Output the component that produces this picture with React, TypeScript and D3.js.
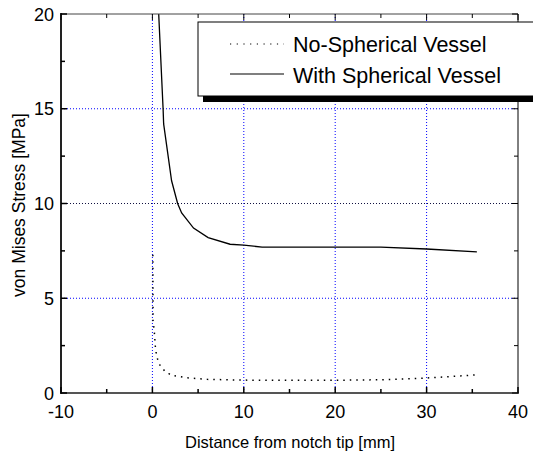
import React from 'react';
import * as d3 from 'd3';

// distance from notch tip [mm] / von Mises stress [MPa]
const noVesselX = [0.05, 0.07, 0.2, 0.33, 0.45, 0.7, 1.35, 2.1, 3.8, 6, 10, 15, 20, 25, 30, 35.3];
const noVesselY = [7.3, 3.8, 3.3, 2.4, 2.0, 1.55, 1.16, 0.93, 0.8, 0.72, 0.68, 0.67, 0.67, 0.7, 0.79, 0.95];

const withVesselX = [0.69, 1.17, 1.23, 2.1, 2.76, 3.2, 4.5, 6.1, 8.5, 10, 12, 15, 20, 25, 30, 35.5];
const withVesselY = [20, 15, 14.2, 11.2, 10, 9.5, 8.7, 8.2, 7.85, 7.8, 7.7, 7.7, 7.7, 7.7, 7.6, 7.45];

const xTicks = [-10, 0, 10, 20, 30, 40];
const xMinor = [-5, 5, 15, 25, 35];
const yTicks = [0, 5, 10, 15, 20];
const yMinor = [2.5, 7.5, 12.5, 17.5];
const xGrid = [0, 10, 20, 30];
const yGrid = [5, 10, 15];

const legendLabels = ['No-Spherical Vessel', 'With Spherical Vessel'];

const W = 533;
const H = 461;
const m = { left: 61, right: 518, top: 14, bottom: 393 };
const font = '"Liberation Sans", Arial, sans-serif';

const App = () => {
  const x = d3.scaleLinear().domain([-10, 40]).range([m.left, m.right]);
  const y = d3.scaleLinear().domain([0, 20]).range([m.bottom, m.top]);

  const line = d3
    .line<[number, number]>()
    .x(d => x(d[0]))
    .y(d => y(d[1]));

  const noVessel = noVesselX.map((v, i) => [v, noVesselY[i]] as [number, number]);
  const withVessel = withVesselX.map((v, i) => [v, withVesselY[i]] as [number, number]);

  // legend box
  const lx = 198;
  const ly = 22;
  const lw = 345;
  const lh = 74;

  return (
    <svg
      width={W}
      height={H}
      style={{ position: 'absolute', left: 0, top: 0, background: '#fff' }}
      fontFamily={font}
    >
      <defs>
        <clipPath id="plot">
          <rect x={m.left} y={m.top} width={m.right - m.left} height={m.bottom - m.top} />
        </clipPath>
      </defs>

      {/* grid */}
      {xGrid.map(t => (
        <line key={'gx' + t} x1={x(t)} x2={x(t)} y1={m.top} y2={m.bottom}
          stroke="#0000ff" strokeWidth={1} strokeDasharray="1,2" />
      ))}
      {yGrid.map(t => (
        <line key={'gy' + t} x1={m.left} x2={m.right} y1={y(t)} y2={y(t)}
          stroke={t === 10 ? '#101040' : '#0000ff'} strokeWidth={1} strokeDasharray="1,2" />
      ))}

      {/* curves */}
      <g clipPath="url(#plot)">
        <path d={line(withVessel) || ''} fill="none" stroke="#000" strokeWidth={1.3} />
        <path d={line(noVessel) || ''} fill="none" stroke="#000" strokeWidth={1.5}
          strokeDasharray="1.5,5" />
      </g>

      {/* frame */}
      <line x1={m.left} x2={m.right} y1={m.top} y2={m.top} stroke="#444" strokeWidth={1} />
      <line x1={m.right} x2={m.right} y1={m.top} y2={m.bottom} stroke="#000" strokeWidth={1} />
      <line x1={m.left} x2={m.right + 1} y1={m.bottom} y2={m.bottom} stroke="#555" strokeWidth={2} />
      <line x1={m.left} x2={m.left} y1={m.top - 1} y2={m.bottom + 1} stroke="#222" strokeWidth={2} />

      {/* ticks */}
      {xTicks.map(t => (
        <g key={'xt' + t}>
          <line x1={x(t)} x2={x(t)} y1={m.bottom} y2={m.bottom - 6} stroke="#000" strokeWidth={1.5} />
          <line x1={x(t)} x2={x(t)} y1={m.top} y2={m.top + 6} stroke="#000" strokeWidth={1} />
          <text x={x(t)} y={418} textAnchor="middle" fontSize={18}>{t}</text>
        </g>
      ))}
      {xMinor.map(t => (
        <g key={'xm' + t}>
          <line x1={x(t)} x2={x(t)} y1={m.bottom} y2={m.bottom - 4} stroke="#000" strokeWidth={1.5} />
          <line x1={x(t)} x2={x(t)} y1={m.top} y2={m.top + 4} stroke="#000" strokeWidth={1} />
        </g>
      ))}
      {yTicks.map(t => (
        <g key={'yt' + t}>
          <line x1={m.left} x2={m.left + 6} y1={y(t)} y2={y(t)} stroke="#000" strokeWidth={1.5} />
          <line x1={m.right} x2={m.right - 6} y1={y(t)} y2={y(t)} stroke="#000" strokeWidth={1} />
          <text x={54} y={y(t) + 6.5} textAnchor="end" fontSize={18}>{t}</text>
        </g>
      ))}
      {yMinor.map(t => (
        <g key={'ym' + t}>
          <line x1={m.left} x2={m.left + 4} y1={y(t)} y2={y(t)} stroke="#000" strokeWidth={1.5} />
          <line x1={m.right} x2={m.right - 4} y1={y(t)} y2={y(t)} stroke="#000" strokeWidth={1} />
        </g>
      ))}

      {/* axis titles */}
      <text x={290} y={448} textAnchor="middle" fontSize={16.5}>Distance from notch tip [mm]</text>
      <text transform={`translate(25, 205) rotate(-90)`} textAnchor="middle" fontSize={17.5}>
        von Mises Stress [MPa]
      </text>

      {/* legend */}
      <rect x={lx + 5} y={ly + 6} width={lw} height={lh} fill="#000" />
      <rect x={lx} y={ly} width={lw} height={lh} fill="#fff" stroke="#000" strokeWidth={1} />
      <line x1={230} x2={284} y1={44} y2={44} stroke="#000" strokeWidth={1.2} strokeDasharray="1.2,5.5" />
      <line x1={230} x2={284} y1={74} y2={74} stroke="#000" strokeWidth={1.2} />
      <text x={293} y={52} fontSize={21.5}>{legendLabels[0]}</text>
      <text x={293} y={83} fontSize={21.5}>{legendLabels[1]}</text>
    </svg>
  );
};

export default App;
